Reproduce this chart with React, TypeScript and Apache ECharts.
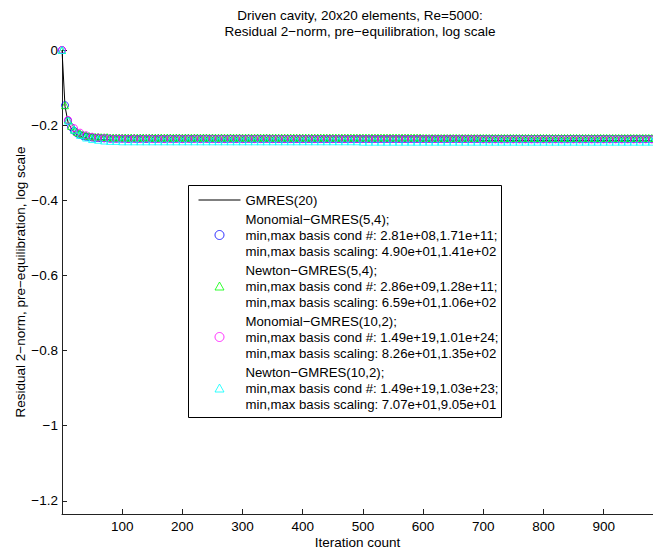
import React, { useEffect, useRef } from "react";
import * as echarts from "echarts";

const titleLines = [
  "Driven cavity, 20x20 elements, Re=5000:",
  "Residual 2\u2212norm, pre\u2212equilibration, log scale",
];
const xAxisName = "Iteration count";
const yAxisName = "Residual 2\u2212norm, pre\u2212equilibration, log scale";
const xTicks = [100, 200, 300, 400, 500, 600, 700, 800, 900];
const yTicks = [0, -0.2, -0.4, -0.6, -0.8, -1, -1.2];
const xMin = 0;
const xMax = 982;
const yMin = -1.235;
const yMax = 0;

const seriesNames = [
  "GMRES(20)",
  "Monomial\u2212GMRES(5,4);\nmin,max basis cond #: 2.81e+08,1.71e+11;\nmin,max basis scaling: 4.90e+01,1.41e+02",
  "Newton\u2212GMRES(5,4);\nmin,max basis cond #: 2.86e+09,1.28e+11;\nmin,max basis scaling: 6.59e+01,1.06e+02",
  "Monomial\u2212GMRES(10,2);\nmin,max basis cond #: 1.49e+19,1.01e+24;\nmin,max basis scaling: 8.26e+01,1.35e+02",
  "Newton\u2212GMRES(10,2);\nmin,max basis cond #: 1.49e+19,1.03e+23;\nmin,max basis scaling: 7.07e+01,9.05e+01",
];

// iteration spacing between consecutive stored values
const gmresStep = 5;
const gmres20 = [
  0, -0.15, -0.192, -0.208, -0.218, -0.225, -0.229, -0.232, -0.234, -0.236,
  -0.237, -0.237, -0.238, -0.238, -0.239, -0.239, -0.239, -0.24, -0.24, -0.24,
  -0.24, -0.24, -0.24, -0.24, -0.24, -0.24, -0.24, -0.24, -0.24, -0.24,
  -0.24, -0.24, -0.24, -0.24, -0.24, -0.24, -0.24, -0.24, -0.24, -0.24,
  -0.24, -0.24, -0.24, -0.24, -0.24, -0.24, -0.24, -0.24, -0.24, -0.24,
  -0.24, -0.24, -0.24, -0.24, -0.24, -0.24, -0.24, -0.24, -0.24, -0.24,
  -0.24, -0.24, -0.24, -0.24, -0.24, -0.24, -0.24, -0.24, -0.24, -0.24,
  -0.24, -0.24, -0.24, -0.24, -0.24, -0.24, -0.24, -0.24, -0.24, -0.24,
  -0.24, -0.24, -0.24, -0.24, -0.24, -0.24, -0.24, -0.24, -0.24, -0.24,
  -0.24, -0.24, -0.24, -0.24, -0.24, -0.24, -0.24, -0.24, -0.24, -0.24,
  -0.24, -0.24, -0.24, -0.24, -0.24, -0.24, -0.24, -0.24, -0.24, -0.24,
  -0.24, -0.24, -0.24, -0.24, -0.24, -0.24, -0.24, -0.24, -0.24, -0.24,
  -0.24, -0.24, -0.24, -0.24, -0.24, -0.24, -0.24, -0.24, -0.24, -0.24,
  -0.24, -0.24, -0.24, -0.24, -0.24, -0.24, -0.24, -0.24, -0.24, -0.24,
  -0.241, -0.241, -0.241, -0.241, -0.241, -0.241, -0.241, -0.241, -0.241, -0.241,
  -0.241, -0.241, -0.241, -0.241, -0.241, -0.241, -0.241, -0.241, -0.241, -0.241,
  -0.241, -0.241, -0.241, -0.241, -0.241, -0.241, -0.241, -0.241, -0.241, -0.241,
  -0.241, -0.241, -0.241, -0.241, -0.241, -0.241, -0.241, -0.241, -0.241, -0.241,
  -0.241, -0.241, -0.241, -0.241, -0.241, -0.241, -0.241, -0.241, -0.241, -0.241,
  -0.241, -0.241, -0.241, -0.241, -0.241, -0.241, -0.241,
];

const mono54Step = 5;
const mono54 = [
  0, -0.147, -0.188, -0.205, -0.215, -0.222, -0.226, -0.229, -0.231, -0.232,
  -0.233, -0.234, -0.234, -0.235, -0.235, -0.235, -0.236, -0.236, -0.236, -0.236,
  -0.236, -0.236, -0.237, -0.236, -0.236, -0.237, -0.236, -0.236, -0.237, -0.236,
  -0.236, -0.237, -0.236, -0.236, -0.237, -0.236, -0.236, -0.237, -0.236, -0.236,
  -0.237, -0.236, -0.236, -0.237, -0.236, -0.236, -0.237, -0.236, -0.236, -0.237,
  -0.236, -0.237, -0.237, -0.236, -0.237, -0.237, -0.236, -0.237, -0.237, -0.236,
  -0.237, -0.237, -0.236, -0.237, -0.237, -0.236, -0.237, -0.237, -0.236, -0.237,
  -0.237, -0.237, -0.237, -0.237, -0.237, -0.237, -0.237, -0.237, -0.237, -0.237,
  -0.237, -0.237, -0.237, -0.237, -0.237, -0.237, -0.237, -0.237, -0.237, -0.237,
  -0.237, -0.237, -0.237, -0.237, -0.237, -0.237, -0.237, -0.237, -0.237, -0.237,
  -0.237, -0.237, -0.237, -0.237, -0.237, -0.237, -0.237, -0.237, -0.237, -0.237,
  -0.237, -0.237, -0.237, -0.237, -0.237, -0.237, -0.237, -0.237, -0.237, -0.237,
  -0.237, -0.237, -0.237, -0.237, -0.237, -0.237, -0.237, -0.237, -0.237, -0.237,
  -0.237, -0.237, -0.237, -0.237, -0.237, -0.237, -0.237, -0.237, -0.237, -0.237,
  -0.237, -0.237, -0.237, -0.237, -0.237, -0.237, -0.237, -0.237, -0.237, -0.237,
  -0.237, -0.237, -0.237, -0.237, -0.237, -0.237, -0.237, -0.237, -0.237, -0.237,
  -0.237, -0.237, -0.237, -0.237, -0.237, -0.237, -0.237, -0.237, -0.237, -0.237,
  -0.237, -0.237, -0.237, -0.237, -0.237, -0.237, -0.237, -0.237, -0.237, -0.237,
  -0.237, -0.237, -0.237, -0.237, -0.237, -0.237, -0.237, -0.237, -0.237, -0.237,
  -0.237, -0.237, -0.237, -0.237, -0.237, -0.237, -0.237,
];

const newton54Step = 5;
const newton54 = [
  0, -0.147, -0.185, -0.202, -0.212, -0.218, -0.222, -0.225, -0.227, -0.229,
  -0.23, -0.231, -0.231, -0.232, -0.232, -0.232, -0.233, -0.233, -0.233, -0.233,
  -0.233, -0.233, -0.233, -0.233, -0.233, -0.233, -0.233, -0.233, -0.233, -0.233,
  -0.233, -0.233, -0.233, -0.233, -0.233, -0.233, -0.233, -0.233, -0.233, -0.233,
  -0.233, -0.233, -0.233, -0.233, -0.233, -0.233, -0.233, -0.233, -0.233, -0.233,
  -0.233, -0.233, -0.233, -0.233, -0.233, -0.233, -0.233, -0.233, -0.233, -0.233,
  -0.233, -0.233, -0.233, -0.233, -0.233, -0.233, -0.233, -0.233, -0.233, -0.233,
  -0.233, -0.233, -0.233, -0.233, -0.233, -0.233, -0.233, -0.233, -0.233, -0.233,
  -0.233, -0.233, -0.233, -0.233, -0.233, -0.233, -0.233, -0.233, -0.233, -0.233,
  -0.233, -0.233, -0.233, -0.233, -0.233, -0.233, -0.233, -0.233, -0.233, -0.233,
  -0.233, -0.233, -0.233, -0.233, -0.233, -0.233, -0.233, -0.233, -0.233, -0.233,
  -0.233, -0.233, -0.233, -0.233, -0.233, -0.233, -0.233, -0.233, -0.233, -0.233,
  -0.234, -0.234, -0.234, -0.234, -0.234, -0.234, -0.234, -0.234, -0.234, -0.234,
  -0.234, -0.234, -0.234, -0.234, -0.234, -0.234, -0.234, -0.234, -0.234, -0.234,
  -0.234, -0.234, -0.234, -0.234, -0.234, -0.234, -0.234, -0.234, -0.234, -0.234,
  -0.234, -0.234, -0.234, -0.234, -0.234, -0.234, -0.234, -0.234, -0.234, -0.234,
  -0.234, -0.234, -0.234, -0.234, -0.234, -0.234, -0.234, -0.234, -0.234, -0.234,
  -0.234, -0.234, -0.234, -0.234, -0.234, -0.234, -0.234, -0.234, -0.234, -0.234,
  -0.234, -0.234, -0.234, -0.234, -0.234, -0.234, -0.234, -0.234, -0.234, -0.234,
  -0.234, -0.234, -0.234, -0.234, -0.234, -0.234, -0.234,
];

const mono102Step = 10;
const mono102 = [
  0, -0.186, -0.208, -0.22, -0.227, -0.231, -0.233, -0.235, -0.236, -0.236,
  -0.236, -0.237, -0.236, -0.237, -0.236, -0.237, -0.237, -0.237, -0.237, -0.237,
  -0.237, -0.237, -0.237, -0.237, -0.237, -0.237, -0.237, -0.237, -0.237, -0.237,
  -0.237, -0.237, -0.237, -0.237, -0.237, -0.237, -0.237, -0.237, -0.237, -0.237,
  -0.237, -0.237, -0.237, -0.237, -0.237, -0.237, -0.237, -0.237, -0.237, -0.237,
  -0.237, -0.237, -0.237, -0.237, -0.237, -0.237, -0.237, -0.237, -0.237, -0.237,
  -0.237, -0.237, -0.237, -0.237, -0.237, -0.237, -0.237, -0.237, -0.237, -0.237,
  -0.238, -0.238, -0.238, -0.238, -0.238, -0.238, -0.238, -0.238, -0.238, -0.238,
  -0.238, -0.238, -0.238, -0.238, -0.238, -0.238, -0.238, -0.238, -0.238, -0.238,
  -0.238, -0.238, -0.238, -0.238, -0.238, -0.238, -0.238, -0.238, -0.238,
];

const newton102Step = 10;
const newton102 = [
  0, -0.188, -0.212, -0.226, -0.233, -0.237, -0.239, -0.241, -0.242, -0.242,
  -0.243, -0.243, -0.243, -0.243, -0.243, -0.243, -0.243, -0.243, -0.243, -0.243,
  -0.243, -0.243, -0.243, -0.243, -0.243, -0.243, -0.243, -0.243, -0.243, -0.243,
  -0.243, -0.243, -0.243, -0.243, -0.243, -0.243, -0.243, -0.243, -0.243, -0.243,
  -0.243, -0.243, -0.243, -0.243, -0.243, -0.243, -0.243, -0.243, -0.243, -0.243,
  -0.244, -0.244, -0.244, -0.244, -0.244, -0.244, -0.244, -0.244, -0.244, -0.244,
  -0.244, -0.244, -0.244, -0.244, -0.244, -0.244, -0.244, -0.244, -0.244, -0.244,
  -0.244, -0.244, -0.244, -0.244, -0.244, -0.244, -0.244, -0.244, -0.244, -0.244,
  -0.244, -0.244, -0.244, -0.244, -0.244, -0.244, -0.244, -0.244, -0.244, -0.244,
  -0.244, -0.244, -0.244, -0.244, -0.244, -0.244, -0.244, -0.244, -0.244,
];

const colors = ["#000000", "#0000ff", "#00ff00", "#ff00ff", "#00ffff"];
const symbols = ["none", "circle", "triangle", "circle", "triangle"];
// legend icons: a thin line sample, and markers placed inside a 42x9 box (invisible moveTo corners keep proportions)
const legendIcons = [
  "path://M0,4L42,4L42,5L0,5Z",
  "circle",
  "path://M0,0M42,9M21,0.5L16.5,8.5L25.5,8.5Z",
  "circle",
  "path://M0,0M42,9M21,0.5L16.5,8.5L25.5,8.5Z",
];

const FONT = "'Liberation Sans', Arial, Helvetica, sans-serif";
const FS = 13.5;
const LEGEND_FS = 13.2;

function toPairs(values: number[], step: number) {
  return values.map((v, i) => [i * step, v]);
}

function fmtY(v: number) {
  if (v === 0) return "0";
  return (v < 0 ? "\u2212" : "") + String(Math.abs(v));
}

export default function App() {
  const ref = useRef<HTMLDivElement>(null);
  useEffect(() => {
    document.body.style.margin = "0";
    if (!ref.current) return;
    const chart = echarts.init(ref.current, undefined, { renderer: "svg" });
    const scatterData = [
      toPairs(mono54, mono54Step),
      toPairs(newton54, newton54Step),
      toPairs(mono102, mono102Step),
      toPairs(newton102, newton102Step),
    ];
    const series: any[] = [
      {
        name: seriesNames[0],
        type: "line",
        data: toPairs(gmres20, gmresStep),
        symbol: "none",
        showSymbol: false,
        lineStyle: { color: colors[0], width: 1 },
        itemStyle: { color: colors[0] },
        z: 2,
      },
    ];
    for (let k = 0; k < 4; k++) {
      series.push({
        name: seriesNames[k + 1],
        type: "scatter",
        data: scatterData[k],
        symbol: symbols[k + 1],
        symbolSize: 7,
        clip: false,
        itemStyle: { color: "transparent", borderColor: colors[k + 1], borderWidth: 1 },
        z: 3 + k,
      });
    }
    chart.setOption({
      animation: false,
      textStyle: { fontFamily: FONT },
      grid: { left: 62, right: 0, top: 50, bottom: 35, containLabel: false },
      xAxis: {
        type: "value",
        min: xMin,
        max: xMax,
        name: xAxisName,
        nameLocation: "middle",
        nameGap: 21,
        nameMoveOverlap: false,
        nameTextStyle: { fontSize: FS, color: "#000", fontFamily: FONT },
        axisLine: { show: true, onZero: false, lineStyle: { color: "#222", width: 1 } },
        axisTick: { show: true, inside: true, length: 5, customValues: xTicks, lineStyle: { color: "#222" } },
        axisLabel: { customValues: xTicks, margin: 5, fontSize: FS, color: "#000", fontFamily: FONT },
        splitLine: { show: false },
      },
      yAxis: {
        type: "value",
        min: yMin,
        max: yMax,
        name: yAxisName,
        nameLocation: "middle",
        nameGap: 35,
        nameMoveOverlap: false,
        nameTextStyle: { fontSize: FS, color: "#000", fontFamily: FONT },
        axisLine: { show: true, onZero: false, lineStyle: { color: "#222", width: 1 } },
        axisTick: { show: true, inside: true, length: 5, customValues: yTicks, lineStyle: { color: "#222" } },
        axisLabel: {
          customValues: yTicks,
          margin: 4,
          fontSize: FS,
          color: "#000",
          fontFamily: FONT,
          formatter: (v: number) => fmtY(v),
        },
        splitLine: { show: false },
      },
      legend: {
        orient: "vertical",
        left: 198,
        top: 192,
        padding: 0,
        itemWidth: 42,
        itemHeight: 9,
        itemGap: 3,
        z: 10,
        selectedMode: false,
        symbolKeepAspect: true,
        textStyle: { fontSize: LEGEND_FS, lineHeight: 16, color: "#000", fontFamily: FONT },
        data: seriesNames.map((n, i) =>
          i === 0
            ? { name: n, icon: legendIcons[0], itemStyle: { color: colors[0], borderWidth: 0 } }
            : {
                name: n,
                icon: legendIcons[i],
                itemStyle: { color: "transparent", borderColor: colors[i], borderWidth: 1 },
              }
        ),
      },
      graphic: [
        {
          type: "rect",
          z: 8,
          shape: { x: 188.5, y: 185.5, width: 313, height: 232 },
          style: { fill: "#fff", stroke: "#000", lineWidth: 1 },
        },
        {
          type: "text",
          z: 8,
          x: 360,
          y: 7,
          style: {
            text: titleLines.join("\n"),
            textAlign: "center",
            fontSize: FS,
            lineHeight: 16,
            fontFamily: FONT,
            fill: "#000",
          },
        },
      ],
      series,
    });
    return () => chart.dispose();
  }, []);
  return <div ref={ref} style={{ width: 653, height: 554 }} />;
}
